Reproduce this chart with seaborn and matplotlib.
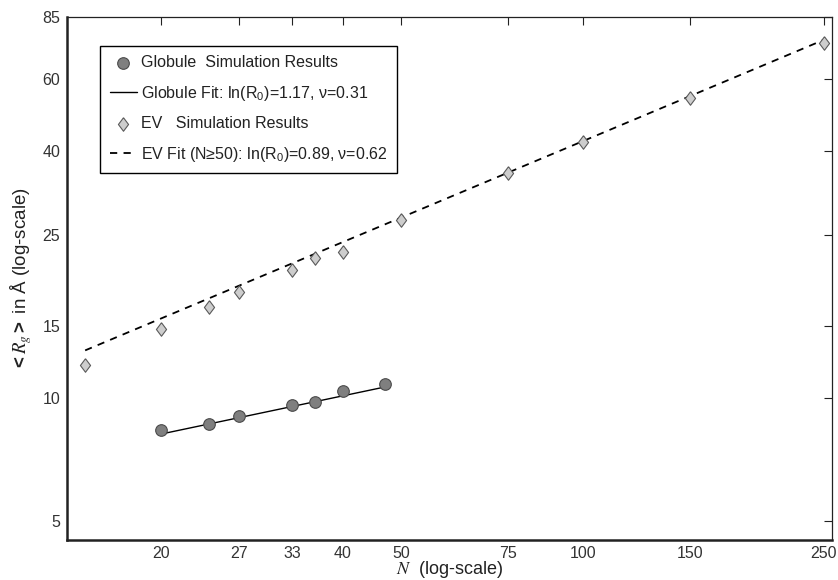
import numpy as np
import pandas as pd
import matplotlib
matplotlib.use("Agg")
import matplotlib.pyplot as plt
from matplotlib.ticker import FixedLocator, FixedFormatter, NullLocator
import seaborn as sns

# ---- data ----
glob_N = [20, 24, 27, 33, 36, 40, 47]
glob_R = [8.33, 8.62, 9.02, 9.58, 9.78, 10.4, 10.8]
ev_N = [15, 20, 24, 27, 33, 36, 40, 50, 75, 100, 150, 250]
ev_R = [12.0, 14.7, 16.7, 18.1, 20.5, 21.9, 22.7, 27.2, 35.3, 42.1, 53.9, 73.5]

glob_fit_lnR0, glob_fit_nu = 1.17, 0.31
glob_fit_range = [20, 47]
ev_fit_lnR0, ev_fit_nu = 0.89, 0.62
ev_fit_range = [15, 250]

x_ticks = [20, 27, 33, 40, 50, 75, 100, 150, 250]
y_ticks = [5, 10, 15, 25, 40, 60, 85]

lab_glob = "Globule  Simulation Results"
lab_gfit = "Globule Fit: ln(R$_0$)=1.17, ν=0.31"
lab_ev = "EV   Simulation Results"
lab_efit = "EV Fit (N≥50): ln(R$_0$)=0.89, ν=0.62"

# ---- style ----
sns.set_theme(style="white")
plt.rcParams["font.family"] = ["Liberation Sans", "DejaVu Sans"]
plt.rcParams["mathtext.fontset"] = "custom"
plt.rcParams["mathtext.rm"] = "Liberation Sans"
plt.rcParams["mathtext.it"] = "STIXGeneral:italic"
plt.rcParams["mathtext.bf"] = "Liberation Sans:bold"

fig = plt.figure(figsize=(8.38, 5.8), dpi=100)
ax = fig.add_axes([0.080, 0.069, 0.913, 0.902])

glob_df = pd.DataFrame({"N": glob_N, "R": glob_R})
ev_df = pd.DataFrame({"N": ev_N, "R": ev_R})

gN = np.array(glob_fit_range, dtype=float)
gfit_df = pd.DataFrame({"N": gN, "R": np.exp(glob_fit_lnR0) * gN ** glob_fit_nu})
eN = np.array(ev_fit_range, dtype=float)
efit_df = pd.DataFrame({"N": eN, "R": np.exp(ev_fit_lnR0) * eN ** ev_fit_nu})

diamond = [(0, 1), (0.75, 0), (0, -1), (-0.75, 0), (0, 1)]

sns.lineplot(data=gfit_df, x="N", y="R", ax=ax, color="black", lw=1.0,
             label=lab_gfit, zorder=2)
sns.lineplot(data=efit_df, x="N", y="R", ax=ax, color="black", lw=1.3,
             label=lab_efit, zorder=2, dashes=False)
ax.lines[-1].set_dashes([4, 3.5])
sns.scatterplot(data=glob_df, x="N", y="R", ax=ax, marker="o", s=70,
                color="#7f7f7f", edgecolor="#4a4a4a", linewidth=0.8,
                label=lab_glob, zorder=3)
sns.scatterplot(data=ev_df, x="N", y="R", ax=ax, marker=diamond, s=95,
                color="#cdcdcd", edgecolor="#5a5a5a", linewidth=0.8,
                label=lab_ev, zorder=3)

ax.set_xscale("log")
ax.set_yscale("log")
ax.set_xlim(14, 258)
ax.set_ylim(4.5, 85)

ax.xaxis.set_major_locator(FixedLocator(x_ticks))
ax.xaxis.set_major_formatter(FixedFormatter([str(v) for v in x_ticks]))
ax.yaxis.set_major_locator(FixedLocator(y_ticks))
ax.yaxis.set_major_formatter(FixedFormatter([str(v) for v in y_ticks]))
ax.xaxis.set_minor_locator(NullLocator())
ax.yaxis.set_minor_locator(NullLocator())

ax.tick_params(axis="both", which="major", direction="in", length=6, width=0.8,
               top=True, right=True, labelsize=11.5, colors="#222222",
               labelcolor="#333333", pad=5)
ax.tick_params(axis="x", pad=4)

for side in ["left", "bottom"]:
    ax.spines[side].set_linewidth(1.8)
    ax.spines[side].set_color("#222222")
for side in ["top", "right"]:
    ax.spines[side].set_linewidth(0.9)
    ax.spines[side].set_color("#222222")

ax.set_xlabel("$N$  (log-scale)", fontsize=13, labelpad=-1, color="#222222")
ax.set_ylabel(r"$\mathbf{<}$$R_g$$\mathbf{>}$ in Å (log-scale)", fontsize=13.5,
              labelpad=6, color="#222222")

handles, labels = ax.get_legend_handles_labels()
hmap = dict(zip(labels, handles))
order = [lab_glob, lab_gfit, lab_ev, lab_efit]
leg = ax.legend([hmap[k] for k in order], order, loc="upper left",
                bbox_to_anchor=(0.043, 0.945), borderaxespad=0,
                fontsize=11.5, frameon=True, fancybox=False, framealpha=1,
                edgecolor="black", handlelength=1.7, handletextpad=0.25,
                labelspacing=0.85, borderpad=0.6)
leg.get_frame().set_linewidth(1.0)
for t in leg.get_texts():
    t.set_color("#222222")

fig.savefig("out.png", dpi=100)
